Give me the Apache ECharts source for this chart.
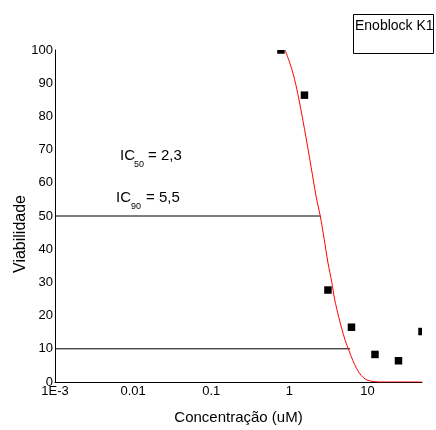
<!DOCTYPE html>
<html><head><meta charset="utf-8">
<script src="https://cdn.jsdelivr.net/npm/echarts@6/dist/echarts.min.js"></script>
<style>html,body{margin:0;padding:0;background:#fff}#c{width:436px;height:430px}</style>
</head><body><div id="c"></div>
<script>
// Tick labels of the log x axis
const xTickValues = [0.001, 0.01, 0.1, 1, 10];
const xTickLabels = ['1E-3', '0.01', '0.1', '1', '10'];
// Measured points (squares)
const concentrations = [0.78125, 1.5625, 3.125, 6.25, 12.5, 25, 50];
const viability = [100, 86.4, 27.7, 16.5, 8.3, 6.4, 15.2];
// Fitted curve
const curveX = [0.88, 1.0, 1.13, 1.29, 1.57, 1.91, 2.2, 2.49, 2.8, 3.12, 3.5, 3.8, 4.3, 4.7, 5.2, 5.8, 6.5, 7.3, 8.3, 9.5, 11, 14, 50];
const curveY = [100, 96.5, 92.5, 86.6, 76, 64.5, 56, 50, 43, 36, 30, 25, 19.5, 16, 12.5, 9.5, 6.5, 4, 2, 0.8, 0.3, 0, 0];
// IC reference lines: [xStart, xEnd] at a given level
const ic50LineX = [0.001, 2.5];
const ic50LineY = [50, 50];
const ic90LineX = [0.001, 6.0];
const ic90LineY = [10, 10];
const legendName = 'Enoblock K1';

const SANS = "'Liberation Sans', Arial, sans-serif";

function zip(a, b) { return a.map((v, i) => [v, b[i]]); }

const chart = echarts.init(document.getElementById('c'), null, {renderer: 'canvas'});
chart.setOption({
  animation: false,
  backgroundColor: '#fff',
  grid: {left: 55, right: 14, top: 50, bottom: 38, containLabel: false},
  xAxis: {
    type: 'log', logBase: 10, min: 0.001, max: 50,
    axisLine: {show: true, lineStyle: {color: '#000', width: 1}},
    axisTick: {show: false},
    splitLine: {show: false},
    minorTick: {show: false},
    axisLabel: {
      color: '#000', fontFamily: SANS, fontSize: 13, margin: 3,
      showMaxLabel: false,
      formatter: function (v) {
        for (let i = 0; i < xTickValues.length; i++) {
          if (Math.abs(Math.log10(v) - Math.log10(xTickValues[i])) < 1e-6) return xTickLabels[i];
        }
        return '';
      }
    },
    name: 'Concentração (uM)', nameLocation: 'middle', nameGap: 28, nameMoveOverlap: false,
    nameTextStyle: {color: '#000', fontFamily: SANS, fontSize: 15}
  },
  yAxis: {
    type: 'value', min: 0, max: 100, interval: 10,
    axisLine: {show: true, lineStyle: {color: '#000', width: 1}},
    axisTick: {show: false},
    splitLine: {show: false},
    axisLabel: {color: '#000', fontFamily: SANS, fontSize: 13, margin: 2},
    name: 'Viabilidade', nameLocation: 'middle', nameRotate: 90, nameGap: 26, nameMoveOverlap: false,
    nameTextStyle: {color: '#000', fontFamily: SANS, fontSize: 16, padding: [0, 36, 0, 0]}
  },
  series: [
    {
      type: 'line', name: 'IC50', data: zip(ic50LineX, ic50LineY), symbol: 'none',
      lineStyle: {color: '#000', width: 1}, silent: true, z: 2
    },
    {
      type: 'line', name: 'IC90', data: zip(ic90LineX, ic90LineY), symbol: 'none',
      lineStyle: {color: '#000', width: 1}, silent: true, z: 2
    },
    {
      type: 'line', name: 'fit', data: zip(curveX, curveY), symbol: 'none', showSymbol: false,
      smooth: 0.3, clip: true,
      lineStyle: {color: '#ff0000', width: 1}, z: 3
    },
    {
      type: 'custom', name: legendName, data: zip(concentrations, viability), clip: true, z: 4,
      encode: {x: 0, y: 1},
      renderItem: function (params, api) {
        const p = api.coord([api.value(0), api.value(1)]);
        const s = 7.5;
        return {type: 'rect', shape: {x: p[0] - s / 2, y: p[1] - s / 2, width: s, height: s}, style: {fill: '#000'}};
      }
    }
  ],
  graphic: [
    {type: 'rect', left: 353, top: 14, shape: {width: 80, height: 39}, style: {fill: '#fff', stroke: '#000', lineWidth: 1}, z: 10},
    {type: 'text', x: 355, y: 26, style: {text: legendName, font: "14px " + SANS, fill: '#000', verticalAlign: 'middle', align: 'left'}, z: 11},
    {type: 'text', x: 120, y: 156, style: {text: 'IC', font: '15px ' + SANS, fill: '#000', verticalAlign: 'middle'}, z: 11},
    {type: 'text', x: 134, y: 165, style: {text: '50', font: '9px ' + SANS, fill: '#000', verticalAlign: 'middle'}, z: 11},
    {type: 'text', x: 148, y: 156, style: {text: '= 2,3', font: '15px ' + SANS, fill: '#000', verticalAlign: 'middle'}, z: 11},
    {type: 'text', x: 116, y: 198, style: {text: 'IC', font: '15px ' + SANS, fill: '#000', verticalAlign: 'middle'}, z: 11},
    {type: 'text', x: 131, y: 207, style: {text: '90', font: '9px ' + SANS, fill: '#000', verticalAlign: 'middle'}, z: 11},
    {type: 'text', x: 146, y: 198, style: {text: '= 5,5', font: '15px ' + SANS, fill: '#000', verticalAlign: 'middle'}, z: 11}
  ]
});
</script>
</body></html>
